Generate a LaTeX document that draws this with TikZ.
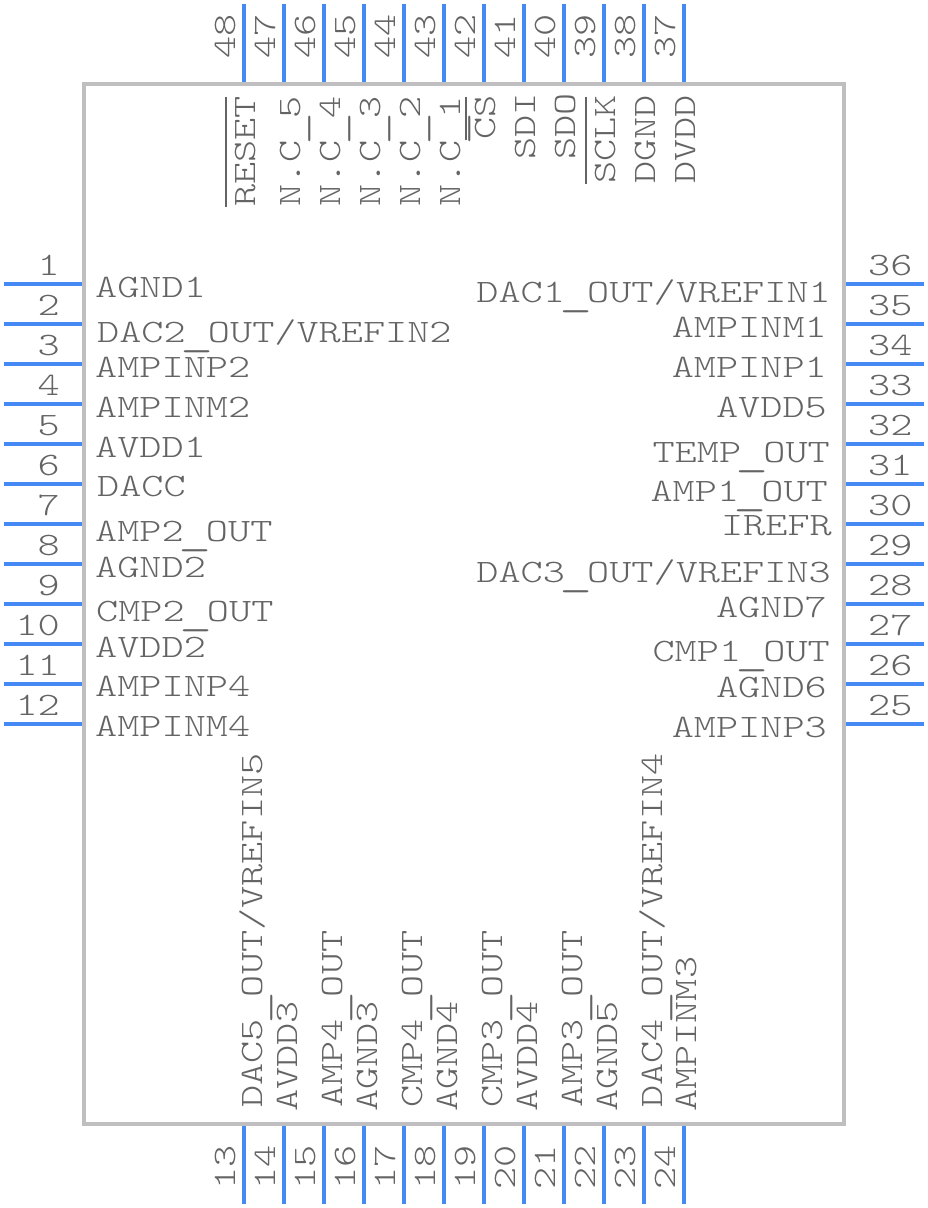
\documentclass[tikz,border=0pt]{standalone}
\usepackage{fontspec}
\usepackage{graphicx}
\newfontfamily\pinfont[FakeStretch=1.29]{Latin Modern Mono Light}
\newcommand{\usc}{\makebox[22.2pt]{\raisebox{-3pt}{\scalebox{1.5}[1.25]{\_}}}}
\definecolor{pinblue}{HTML}{4589F5}
\definecolor{bodygrey}{HTML}{BFBFBF}
\definecolor{textgrey}{HTML}{646464}
\tikzset{
	chip/.style={draw=bodygrey, line width=4pt, minimum width=760pt, minimum height=1040pt},
	pin/.style={draw=pinblue, line width=4pt},
	bar/.style={draw=textgrey, line width=1.6pt},
	txt/.style={inner sep=0, text=textgrey, font=\pinfont\fontsize{32.7}{33}\selectfont},
	lbl/.style={txt, anchor=base west},
	rbl/.style={txt, anchor=base east},
	vbl/.style={txt, anchor=base west, rotate=90},
}

\begin{document}
\begin{tikzpicture}[x=1pt, y=-1pt]
	\useasboundingbox (0,0) rectangle (928,1208);
	\node[chip] (body) at (464,604) {};

	% left side
	\coordinate (p1) at (4,284);
	\coordinate (p2) at (4,324);
	\coordinate (p3) at (4,364);
	\coordinate (p4) at (4,404);
	\coordinate (p5) at (4,444);
	\coordinate (p6) at (4,484);
	\coordinate (p7) at (4,524);
	\coordinate (p8) at (4,564);
	\coordinate (p9) at (4,604);
	\coordinate (p10) at (4,644);
	\coordinate (p11) at (4,684);
	\coordinate (p12) at (4,724);

	% bottom side
	\coordinate (p13) at (244,1204);
	\coordinate (p14) at (284,1204);
	\coordinate (p15) at (324,1204);
	\coordinate (p16) at (364,1204);
	\coordinate (p17) at (404,1204);
	\coordinate (p18) at (444,1204);
	\coordinate (p19) at (484,1204);
	\coordinate (p20) at (524,1204);
	\coordinate (p21) at (564,1204);
	\coordinate (p22) at (604,1204);
	\coordinate (p23) at (644,1204);
	\coordinate (p24) at (684,1204);

	% right side
	\coordinate (p25) at (924,724);
	\coordinate (p26) at (924,684);
	\coordinate (p27) at (924,644);
	\coordinate (p28) at (924,604);
	\coordinate (p29) at (924,564);
	\coordinate (p30) at (924,524);
	\coordinate (p31) at (924,484);
	\coordinate (p32) at (924,444);
	\coordinate (p33) at (924,404);
	\coordinate (p34) at (924,364);
	\coordinate (p35) at (924,324);
	\coordinate (p36) at (924,284);

	% top side
	\coordinate (p37) at (684,4);
	\coordinate (p38) at (644,4);
	\coordinate (p39) at (604,4);
	\coordinate (p40) at (564,4);
	\coordinate (p41) at (524,4);
	\coordinate (p42) at (484,4);
	\coordinate (p43) at (444,4);
	\coordinate (p44) at (404,4);
	\coordinate (p45) at (364,4);
	\coordinate (p46) at (324,4);
	\coordinate (p47) at (284,4);
	\coordinate (p48) at (244,4);

	\draw [pin]
		(p1) edge (p1 -| body.west)
		(p2) edge (p2 -| body.west)
		(p3) edge (p3 -| body.west)
		(p4) edge (p4 -| body.west)
		(p5) edge (p5 -| body.west)
		(p6) edge (p6 -| body.west)
		(p7) edge (p7 -| body.west)
		(p8) edge (p8 -| body.west)
		(p9) edge (p9 -| body.west)
		(p10) edge (p10 -| body.west)
		(p11) edge (p11 -| body.west)
		(p12) edge (p12 -| body.west)

		(p13) edge (p13 |- body.south)
		(p14) edge (p14 |- body.south)
		(p15) edge (p15 |- body.south)
		(p16) edge (p16 |- body.south)
		(p17) edge (p17 |- body.south)
		(p18) edge (p18 |- body.south)
		(p19) edge (p19 |- body.south)
		(p20) edge (p20 |- body.south)
		(p21) edge (p21 |- body.south)
		(p22) edge (p22 |- body.south)
		(p23) edge (p23 |- body.south)
		(p24) edge (p24 |- body.south)

		(p25) edge (p25 -| body.east)
		(p26) edge (p26 -| body.east)
		(p27) edge (p27 -| body.east)
		(p28) edge (p28 -| body.east)
		(p29) edge (p29 -| body.east)
		(p30) edge (p30 -| body.east)
		(p31) edge (p31 -| body.east)
		(p32) edge (p32 -| body.east)
		(p33) edge (p33 -| body.east)
		(p34) edge (p34 -| body.east)
		(p35) edge (p35 -| body.east)
		(p36) edge (p36 -| body.east)

		(p37) edge (p37 |- body.north)
		(p38) edge (p38 |- body.north)
		(p39) edge (p39 |- body.north)
		(p40) edge (p40 |- body.north)
		(p41) edge (p41 |- body.north)
		(p42) edge (p42 |- body.north)
		(p43) edge (p43 |- body.north)
		(p44) edge (p44 |- body.north)
		(p45) edge (p45 |- body.north)
		(p46) edge (p46 |- body.north)
		(p47) edge (p47 |- body.north)
		(p48) edge (p48 |- body.north)
		;

	% pin numbers
	\node[rbl] (n1) at (60,275) {1};
	\node[rbl] (n2) at (60,315) {2};
	\node[rbl] (n3) at (60,355) {3};
	\node[rbl] (n4) at (60,395) {4};
	\node[rbl] (n5) at (60,435) {5};
	\node[rbl] (n6) at (60,475) {6};
	\node[rbl] (n7) at (60,515) {7};
	\node[rbl] (n8) at (60,555) {8};
	\node[rbl] (n9) at (60,595) {9};
	\node[rbl] (n10) at (60,635) {10};
	\node[rbl] (n11) at (60,675) {11};
	\node[rbl] (n12) at (60,715) {12};

	\node[vbl] (n13) at (235,1190) {13};
	\node[vbl] (n14) at (275,1190) {14};
	\node[vbl] (n15) at (315,1190) {15};
	\node[vbl] (n16) at (355,1190) {16};
	\node[vbl] (n17) at (395,1190) {17};
	\node[vbl] (n18) at (435,1190) {18};
	\node[vbl] (n19) at (475,1190) {19};
	\node[vbl] (n20) at (515,1190) {20};
	\node[vbl] (n21) at (555,1190) {21};
	\node[vbl] (n22) at (595,1190) {22};
	\node[vbl] (n23) at (635,1190) {23};
	\node[vbl] (n24) at (675,1190) {24};

	\node[lbl] (n25) at (868,715) {25};
	\node[lbl] (n26) at (868,675) {26};
	\node[lbl] (n27) at (868,635) {27};
	\node[lbl] (n28) at (868,595) {28};
	\node[lbl] (n29) at (868,555) {29};
	\node[lbl] (n30) at (868,515) {30};
	\node[lbl] (n31) at (868,475) {31};
	\node[lbl] (n32) at (868,435) {32};
	\node[lbl] (n33) at (868,395) {33};
	\node[lbl] (n34) at (868,355) {34};
	\node[lbl] (n35) at (868,315) {35};
	\node[lbl] (n36) at (868,275) {36};

	\node[vbl] (n37) at (675,59) {37};
	\node[vbl] (n38) at (635,59) {38};
	\node[vbl] (n39) at (595,59) {39};
	\node[vbl] (n40) at (555,59) {40};
	\node[vbl] (n41) at (515,59) {41};
	\node[vbl] (n42) at (475,59) {42};
	\node[vbl] (n43) at (435,59) {43};
	\node[vbl] (n44) at (395,59) {44};
	\node[vbl] (n45) at (355,59) {45};
	\node[vbl] (n46) at (315,59) {46};
	\node[vbl] (n47) at (275,59) {47};
	\node[vbl] (n48) at (235,59) {48};

	% pin names
	\node[lbl] (l1) at (95,297) {AGND1};
	\node[lbl] (l2) at (97,342) {DAC2\usc OUT/VREFIN2};
	\node[lbl] (l3) at (95,377) {AMPINP2};
	\node[lbl] (l4) at (95,417) {AMPINM2};
	\node[lbl] (l5) at (95,457) {AVDD1};
	\node[lbl] (l6) at (97,496) {DACC};
	\node[lbl] (l7) at (95,541) {AMP2\usc OUT};
	\node[lbl] (l8) at (95,577) {AGND2};
	\node[lbl] (l9) at (96,621) {CMP2\usc OUT};
	\node[lbl] (l10) at (95,657) {AVDD2};
	\node[lbl] (l11) at (95,696) {AMPINP4};
	\node[lbl] (l12) at (95,736) {AMPINM4};

	\node[vbl] (l13) at (262,1108) {DAC5\usc OUT/VREFIN5};
	\node[vbl] (l14) at (297,1112) {AVDD3};
	\node[vbl] (l15) at (342,1108) {AMP4\usc OUT};
	\node[vbl] (l16) at (377,1112) {AGND3};
	\node[vbl] (l17) at (422,1108) {CMP4\usc OUT};
	\node[vbl] (l18) at (457,1112) {AGND4};
	\node[vbl] (l19) at (502,1108) {CMP3\usc OUT};
	\node[vbl] (l20) at (537,1112) {AVDD4};
	\node[vbl] (l21) at (582,1108) {AMP3\usc OUT};
	\node[vbl] (l22) at (617,1112) {AGND5};
	\node[vbl] (l23) at (662,1108) {DAC4\usc OUT/VREFIN4};
	\node[vbl] (l24) at (696,1112) {AMPINM3};

	\node[rbl] (l25) at (827,737) {AMPINP3};
	\node[rbl] (l26) at (827,697) {AGND6};
	\node[rbl] (l27) at (830,661) {CMP1\usc OUT};
	\node[rbl] (l28) at (827,617) {AGND7};
	\node[rbl] (l29) at (831,582) {DAC3\usc OUT/VREFIN3};
	\node[rbl] (l30) at (832,535) {IREFR};
	\node[rbl] (l31) at (828,501) {AMP1\usc OUT};
	\node[rbl] (l32) at (830,462) {TEMP\usc OUT};
	\node[rbl] (l33) at (827,417) {AVDD5};
	\node[rbl] (l34) at (827,377) {AMPINP1};
	\node[rbl] (l35) at (827,337) {AMPINM1};
	\node[rbl] (l36) at (831,302) {DAC1\usc OUT/VREFIN1};

	\node[vbl] (l37) at (695,184) {DVDD};
	\node[vbl] (l38) at (655,184) {DGND};
	\node[vbl] (l39) at (615,184) {SCLK};
	\node[vbl] (l40) at (575,160) {SDO};
	\node[vbl] (l41) at (535,160) {SDI};
	\node[vbl] (l42) at (495,140) {CS};
	\node[vbl] (l43) at (460,207) {N.C\usc 1};
	\node[vbl] (l44) at (420,207) {N.C\usc 2};
	\node[vbl] (l45) at (380,207) {N.C\usc 3};
	\node[vbl] (l46) at (340,207) {N.C\usc 4};
	\node[vbl] (l47) at (300,207) {N.C\usc 5};
	\node[vbl] (l48) at (255,207) {RESET};

	% active low bars
	\coordinate (b48a) at (226,207);
	\coordinate (b48b) at (226,97);
	\coordinate (b42a) at (466,140);
	\coordinate (b42b) at (466,97);
	\coordinate (b39a) at (586,184);
	\coordinate (b39b) at (586,97);
	\draw [bar]
		(b48a) edge (b48b)
		(b42a) edge (b42b)
		(b39a) edge (b39b)
		;
\end{tikzpicture}
\end{document}
